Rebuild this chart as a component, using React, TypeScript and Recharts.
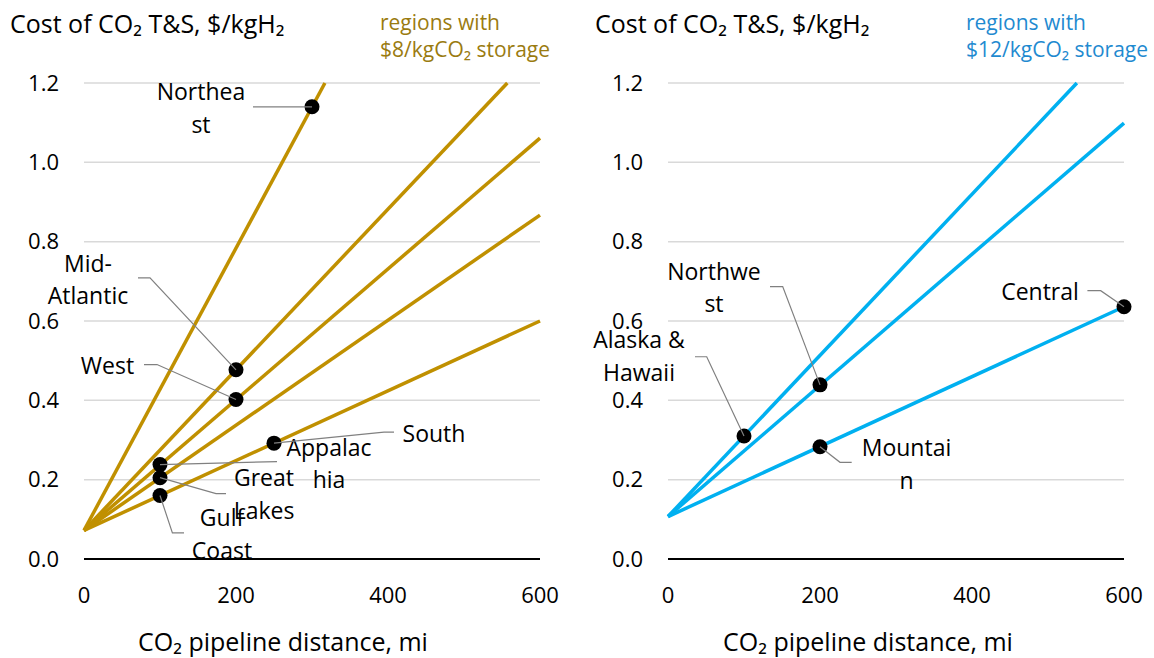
import { ComposedChart, Line, Scatter, XAxis, YAxis, CartesianGrid } from "recharts";

const FONT = '"Open Sans", "Noto Sans", "DejaVu Sans", sans-serif';
const GOLD = "#C09000";
const GOLD_TEXT = "#9A7B10";
const BLUE = "#00B0F0";
const BLUE_TEXT = "#1F8AD0";

const xTicks = [0, 200, 400, 600];
const yTicks = [0, 0.2, 0.4, 0.6, 0.8, 1.0, 1.2];

// $8/kgCO2 storage regions: each line runs from the zero-distance cost to its last visible point
const goldLines = [
  [{ x: 0, y: 0.072 }, { x: 317, y: 1.2 }],
  [{ x: 0, y: 0.072 }, { x: 557, y: 1.2 }],
  [{ x: 0, y: 0.072 }, { x: 600, y: 1.061 }],
  [{ x: 0, y: 0.072 }, { x: 600, y: 0.867 }],
  [{ x: 0, y: 0.072 }, { x: 600, y: 0.6 }],
];

const goldPoints = [
  { name: "Northeast", x: 300, y: 1.14 },
  { name: "Mid-Atlantic", x: 200, y: 0.477 },
  { name: "West", x: 200, y: 0.402 },
  { name: "Appalachia", x: 100, y: 0.238 },
  { name: "Great Lakes", x: 100, y: 0.205 },
  { name: "Gulf Coast", x: 100, y: 0.16 },
  { name: "South", x: 250, y: 0.292 },
];

// $12/kgCO2 storage regions
const blueLines = [
  [{ x: 0, y: 0.107 }, { x: 538, y: 1.2 }],
  [{ x: 0, y: 0.107 }, { x: 600, y: 1.099 }],
  [{ x: 0, y: 0.107 }, { x: 600, y: 0.636 }],
];

const bluePoints = [
  { name: "Alaska & Hawaii", x: 100, y: 0.31 },
  { name: "Northwest", x: 200, y: 0.439 },
  { name: "Mountain", x: 200, y: 0.283 },
  { name: "Central", x: 600, y: 0.636 },
];

// label placement relative to each dot (wrapped the way the original chart wraps them)
type LabelLayout = { lines: string[]; dx: number; dy: number; leader: number[][] };

const labelLayout: Record<string, LabelLayout> = {
  Northeast: { lines: ["Northea", "st"], dx: -111, dy: -6.7, leader: [[-59, 0]] },
  "Mid-Atlantic": { lines: ["Mid-", "Atlantic"], dx: -148, dy: -98, leader: [[-98, -92], [-86, -92]] },
  West: { lines: ["West"], dx: -128.5, dy: -26, leader: [[-92, -35], [-79, -35]] },
  Appalachia: { lines: ["Appalac", "hia"], dx: 169, dy: -9, leader: [[117, -3]] },
  "Great Lakes": { lines: ["Great", "Lakes"], dx: 104, dy: 8.4, leader: [[66, 16], [56, 16]] },
  "Gulf Coast": { lines: ["Gulf", "Coast"], dx: 62, dy: 30.7, leader: [[24, 37.3], [12.4, 37.3]] },
  South: { lines: ["South"], dx: 160, dy: -1.6, leader: [[120, -11], [110, -11]] },
  Central: { lines: ["Central"], dx: -84, dy: -6.7, leader: [[-36.6, -16], [-23.3, -16]] },
  Northwest: { lines: ["Northwe", "st"], dx: -106, dy: -105, leader: [[-50, -98.3], [-37.3, -98.3]] },
  "Alaska & Hawaii": { lines: ["Alaska &", "Hawaii"], dx: -105, dy: -87.7, leader: [[-49, -79.3], [-37.3, -79.3]] },
  Mountain: { lines: ["Mountai", "n"], dx: 86.5, dy: 9.3, leader: [[31.7, 15.6], [20, 15.6]] },
};

const LINE_GAP = 32.5;

const PointLabel = (props: any) => {
  const { cx, cy, payload } = props;
  const l = labelLayout[payload.name];
  const pts = [...l.leader, [0, 0]].map(([dx, dy]) => `${cx + dx},${cy + dy}`).join(" ");
  return (
    <g>
      <circle cx={cx} cy={cy} r={7.5} fill="#000" />
      <polyline points={pts} fill="none" stroke="#808080" strokeWidth={1.2} />
      <text x={cx + l.dx} y={cy + l.dy} textAnchor="middle" fontSize={23} fontFamily={FONT} fill="#000">
        {l.lines.map((t, i) => (
          <tspan key={i} x={cx + l.dx} dy={i === 0 ? 0 : LINE_GAP}>
            {t}
          </tspan>
        ))}
      </text>
    </g>
  );
};

interface PanelProps {
  lines: { x: number; y: number }[][];
  points: { name: string; x: number; y: number }[];
  color: string;
  textColor: string;
  storage: string;
  axisWidth: number;
  right: number;
  noteX: number;
  titleX: number;
  xTitleX: number;
}

const Panel = ({ lines, points, color, textColor, storage, axisWidth, right, noteX, titleX, xTitleX }: PanelProps) => {
  return (
    <div style={{ position: "relative", width: 577, height: 658 }}>
      <ComposedChart width={577} height={658} margin={{ top: 83, right, bottom: 59, left: 0 }}>
        <CartesianGrid vertical={false} stroke="#d9d9d9" strokeWidth={1.5} />
        <XAxis
          type="number"
          dataKey="x"
          domain={[0, 600]}
          ticks={xTicks}
          height={40}
          tickLine={false}
          tickSize={0}
          tickMargin={28}
          axisLine={{ stroke: "#000", strokeWidth: 2 }}
          tick={{ fontSize: 22, fill: "#000", fontFamily: FONT }}
        />
        <YAxis
          type="number"
          dataKey="y"
          domain={[0, 1.2]}
          ticks={yTicks}
          width={axisWidth}
          axisLine={false}
          tickLine={false}
          tickSize={0}
          tickMargin={25}
          tickFormatter={(v: number) => v.toFixed(1)}
          tick={{ fontSize: 22, fill: "#000", fontFamily: FONT }}
        />
        {lines.map((d, i) => (
          <Line
            key={i}
            data={d}
            dataKey="y"
            stroke={color}
            strokeWidth={3.5}
            dot={false}
            activeDot={false}
            isAnimationActive={false}
          />
        ))}
        <Scatter data={points} dataKey="y" shape={PointLabel} isAnimationActive={false} />
      </ComposedChart>
      <svg width={577} height={658} style={{ position: "absolute", left: 0, top: 0, pointerEvents: "none" }}>
        <text x={titleX} y={33} fontSize={25} fontFamily={FONT} fill="#000">
          Cost of CO₂ T&amp;S, $/kgH₂
        </text>
        <text x={noteX} y={30} fontSize={21} fontFamily={FONT} fill={textColor}>
          regions with
        </text>
        <text x={noteX} y={57} fontSize={21} fontFamily={FONT} fill={textColor}>
          {storage}
        </text>
        <text x={xTitleX} y={651} fontSize={25} fontFamily={FONT} fill="#000">
          CO₂ pipeline distance, mi
        </text>
      </svg>
    </div>
  );
};

export default function App() {
  return (
    <div style={{ position: "absolute", left: 0, top: 0, width: 1154, height: 658, display: "flex", background: "#fff" }}>
      <Panel
        lines={goldLines}
        points={goldPoints}
        color={GOLD}
        textColor={GOLD_TEXT}
        storage="$8/kgCO₂ storage"
        axisWidth={84}
        right={37}
        noteX={380}
        titleX={10}
        xTitleX={138}
      />
      <Panel
        lines={blueLines}
        points={bluePoints}
        color={BLUE}
        textColor={BLUE_TEXT}
        storage="$12/kgCO₂ storage"
        axisWidth={91}
        right={30}
        noteX={389}
        titleX={18}
        xTitleX={146}
      />
    </div>
  );
}
